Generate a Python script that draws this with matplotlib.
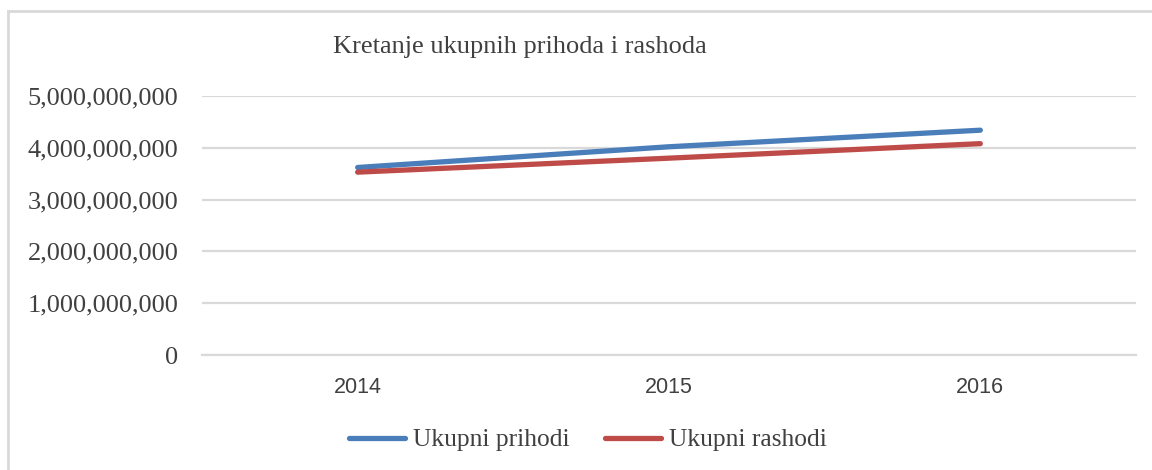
import numpy as np
import matplotlib.pyplot as plt
from matplotlib.lines import Line2D
from matplotlib.ticker import FuncFormatter

# data
years = ['2014', '2015', '2016']
prihodi = [3.62e9, 4.02e9, 4.34e9]
rashodi = [3.53e9, 3.80e9, 4.08e9]
yticks = [0, 1e9, 2e9, 3e9, 4e9, 5e9]

BLUE = '#4a7ebb'
RED = '#be4b48'
GRID = '#d9d9d9'
TXT = '#404040'

fig = plt.figure(figsize=(11.52, 4.70), dpi=100)
ax = fig.add_axes([202 / 1152, 1 - 355 / 470, (1136 - 202) / 1152, (355 - 96) / 470])

x = np.arange(len(years))
ax.plot(x, prihodi, color=BLUE, lw=3.8, solid_capstyle='round', label='Ukupni prihodi', zorder=3)
ax.plot(x, rashodi, color=RED, lw=3.8, solid_capstyle='round', label='Ukupni rashodi', zorder=3)

ax.set_xlim(-0.5, len(years) - 0.5)
ax.set_ylim(0, 5e9)
ax.set_yticks(yticks)
ax.yaxis.set_major_formatter(FuncFormatter(lambda v, p: f'{v:,.0f}'))
ax.set_xticks(x)
ax.set_xticklabels(years, family='Liberation Sans', fontsize=15.5, color=TXT)
for lab in ax.get_yticklabels():
    lab.set_family('Liberation Serif')
    lab.set_fontsize(19)
    lab.set_color(TXT)

ax.grid(axis='y', color=GRID, lw=1.6)
ax.set_axisbelow(True)
for s in ['top', 'right', 'left']:
    ax.spines[s].set_visible(False)
ax.spines['bottom'].set_color(GRID)
ax.spines['bottom'].set_linewidth(1.6)
ax.tick_params(axis='both', length=0)
ax.tick_params(axis='y', pad=17)
ax.tick_params(axis='x', pad=16)

fig.text(520 / 1152, 1 - 47 / 470, 'Kretanje ukupnih prihoda i rashoda',
         family='Liberation Serif', fontsize=19, color=TXT, ha='center', va='center')

leg = fig.legend(loc='center', bbox_to_anchor=(588 / 1152, 1 - 440 / 470), ncol=2,
                 frameon=False, prop={'family': 'Liberation Serif', 'size': 18.4},
                 handlelength=2.2, handletextpad=0.3, columnspacing=1.4)
for t in leg.get_texts():
    t.set_color(TXT)

# outer border of the chart frame (top and left visible in the crop)
fig.add_artist(Line2D([8 / 1152, 8 / 1152], [0, 1 - 11 / 470], transform=fig.transFigure, color=GRID, lw=2))
fig.add_artist(Line2D([8 / 1152, 1], [1 - 11 / 470, 1 - 11 / 470], transform=fig.transFigure, color=GRID, lw=2))

fig.savefig('out.png', dpi=100)
